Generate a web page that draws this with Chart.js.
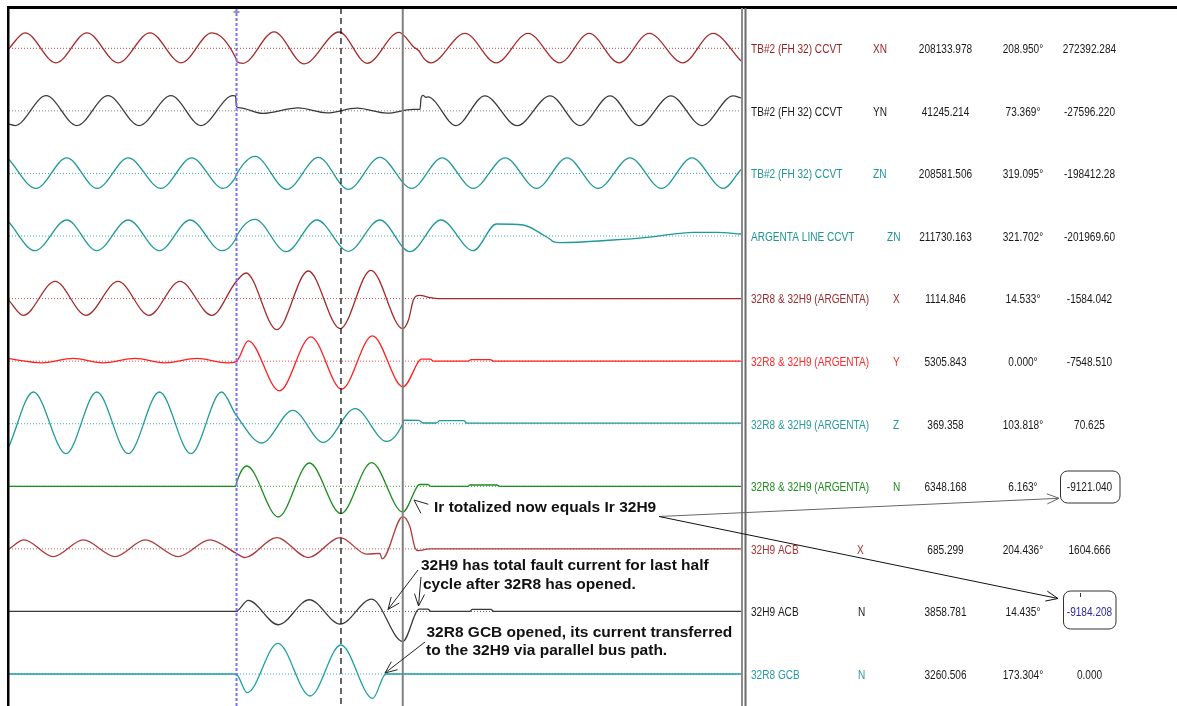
<!DOCTYPE html>
<html>
<head>
<meta charset="utf-8">
<title>Argenta 32R8 / 32H9 fault record</title>
<script src="https://cdn.jsdelivr.net/npm/chart.js@4.4.0/dist/chart.umd.min.js"></script>
<style>
  html, body { margin: 0; padding: 0; background: #fff; }
  canvas { display: block; }
</style>
</head>
<body>
<canvas id="faultChart" width="1177" height="706"></canvas>
<script>
// channel table (right hand side)
const channelNames = [
    'TB#2 (FH 32) CCVT', 'TB#2 (FH 32) CCVT', 'TB#2 (FH 32) CCVT', 'ARGENTA LINE CCVT',
    '32R8 & 32H9 (ARGENTA)', '32R8 & 32H9 (ARGENTA)', '32R8 & 32H9 (ARGENTA)', '32R8 & 32H9 (ARGENTA)',
    '32H9 ACB', '32H9 ACB', '32R8 GCB'
];
const phaseCodes = ['XN', 'YN', 'ZN', 'ZN', 'X', 'Y', 'Z', 'N', 'X', 'N', 'N'];
const magnitudes = [208133.978, 41245.214, 208581.506, 211730.163, 1114.846, 5305.843, 369.358, 6348.168, 685.299, 3858.781, 3260.506];
const angles = [208.950, 73.369, 319.095, 321.702, 14.533, 0.000, 103.818, 6.163, 204.436, 14.435, 173.304];
const instValues = ['272392.284', '-27596.220', '-198412.28', '-201969.60', '-1584.042', '-7548.510', '70.625', '-9121.040', '1604.666', '-9184.208', '0.000'];

// cursors: fault inception, reference, 32R8 open (ms)
const cursorTimes = [60.67, 88.53, 105.0];

// waveforms as [time ms, deflection], taken at every peak, trough and corner
const xnWave = [
    [0, 0], [4.3, 15.5], [12.5, -14.5], [20.8, 15.5], [29.1, -14.5], [37.6, 15.5], [45.9, -14.5], [54.1, 15.5],
    [60.5, -10], [60.8, -13.5], [62.4, -15], [70.7, 16.5], [78.7, -15.5], [88.0, 16.3], [95.5, -15], [104.0, 16],
    [108.0, 1], [109.3, -2.5], [110.7, -10.5], [112.5, -14.5], [121.6, 15], [129.9, -14.5], [138.4, 15], [146.9, -14.5],
    [154.7, 15], [162.7, -14.5], [170.7, 15], [179.7, -14.5], [187.7, 15], [195.2, -12.7]
];
const ynWave = [
    [0, -13.3], [1.6, -14.7], [9.9, 15.2], [18.1, -14.7], [26.4, 15.2], [34.7, -14.7], [43.2, 15.2], [51.2, -14.7], [59.7, 15.2],
    [60.4, 15], [60.7, 4], [61.6, 3], [67.7, -2.6], [77.1, 3], [84.8, -2], [92.8, 2.7], [100.8, -2.3], [107.7, 1.5],
    [109.6, 1.5], [109.9, 13], [110.4, 15.5], [111.2, 13.5], [111.7, 14], [119.2, -14.7], [126.9, 15], [135.5, -14.7],
    [144.3, 15], [152.3, -14.7], [160.3, 15], [168.0, -14.7], [176.5, 15], [184.8, -14.7], [193.1, 15], [195.2, 13]
];
const znWave = [
    [0, 14], [7.2, -15], [15.4, 15.5], [23.5, -15], [31.8, 15.5], [40.5, -15], [48.7, 15.5], [57.1, -15],
    [60.3, -4.4], [60.8, 0], [65.6, 17], [74.1, -16], [82.5, 16], [90.5, -16], [98.9, 16], [107.4, -15],
    [115.5, 15.5], [123.8, -15], [132.3, 15.5], [140.7, -15], [148.8, 15.5], [157.1, -15], [165.6, 15.5],
    [174.0, -15], [182.1, 15.5], [190.5, -15], [195.2, 4]
];
const argentaZnWave = [
    [0, 13.7], [6.9, -14.7], [15.4, 16], [23.4, -14.7], [31.8, 16], [40.1, -14.7], [48.3, 16], [56.7, -14.7],
    [60.3, -4], [60.7, 0], [65.6, 16.7], [73.9, -15.7], [82.1, 16], [90.5, -15.3], [98.9, 16], [106.9, -15.7],
    [115.2, 16], [123.8, -14.7], [130.0, 12], [137.1, 11], [142.5, 1], [144.3, -3.3], [145.1, -5.7], [146.9, -6.7],
    [161.1, -4], [170.1, -1.3], [178.9, 2.7], [182.5, 3.7], [188.7, 3.7], [195.2, 2]
];
const xWave = [
    [0, -2], [3.8, -16.7], [12.3, 17.3], [20.5, -16.7], [29.1, 17.3], [37.3, -16.7], [45.6, 17.3], [54.1, -16.7],
    [60.5, 16.6], [63.2, 25.6], [71.4, -31], [79.8, 27.6], [88.3, -30], [96.5, 28.3], [105.0, -30], [106.5, -21.7],
    [107.8, -1.7], [108.5, 2.3], [109.6, 3.3], [112.3, 1], [114.5, 0], [195.2, 0]
];
const yWave = [
    [0, 2.5], [8.7, -1.7], [17.1, 2.7], [25.1, -1.7], [33.6, 2.7], [41.6, -1.7], [50.1, 2.7], [58.1, -1.7],
    [60.5, -0.7], [63.8, 20.3], [72.1, -29.7], [80.5, 24.3], [88.7, -28], [96.9, 25.3], [105.1, -25.7], [109.3, 0],
    [109.9, 2], [112.3, 2], [113.3, 0], [122.4, 0], [123.2, 1.5], [128.3, 1.5], [129.3, 0], [195.2, 0]
];
const zWave = [
    [0, -22.7], [6.5, 31.7], [15.2, -30], [23.4, 31.7], [31.8, -30], [40.1, 31.7], [48.5, -30], [56.7, 31.7],
    [60.5, 9], [67.4, -19.3], [75.7, 13.3], [83.8, -18.7], [92.3, 15], [100.7, -17.7], [105.0, 0], [105.3, 3.5],
    [109.3, 3.3], [110.4, 0.7], [113.9, 0.7], [114.9, 3], [121.3, 3], [122.1, 0.5], [195.2, 0.5]
];
const nWave = [
    [0, 0], [60.5, 0], [60.8, 5], [63.4, 20.3], [71.8, -30.7], [80.1, 23.3], [88.5, -27.3], [96.7, 23.7], [105.0, -25.7],
    [109.1, 1], [109.6, 1.8], [111.7, 1.8], [112.5, 0], [122.4, 0], [122.9, 1.3], [130.1, 1.3], [130.9, 0], [195.2, 0]
];
const h9xWave = [
    [0, 0], [4.0, 9], [11.8, -7.7], [19.8, 9], [28.3, -7.7], [36.3, 9], [45.1, -7.7], [53.6, 9],
    [60.5, -4.3], [62.9, -8.7], [71.4, 11.3], [79.8, -8.7], [88.3, 11.3], [95.4, -5.3], [98.9, -4.5], [99.5, -10],
    [105.0, 32.3], [106.9, 22.3], [108.3, 0.7], [109.2, -1.7], [110.5, -1], [111.8, 0], [195.2, 0]
];
const h9nWave = [
    [0, 0], [60.5, 0], [63.8, 11], [71.8, -13.3], [80.1, 11.7], [88.3, -12.7], [96.7, 12.3], [105.0, -30],
    [108.7, 0], [109.3, 2.4], [111.7, 2.4], [112.5, 0], [122.9, 0], [123.5, 2], [128.5, 2], [129.3, 0], [195.2, 0]
];
const r8nWave = [
    [0, 0], [60.5, 0], [63.5, -18.7], [71.7, 30.7], [80.3, -22], [88.5, 29], [97.0, -24.3], [100.5, 0], [195.2, 0]
];

const waves = [xnWave, ynWave, znWave, argentaZnWave, xWave, yWave, zWave, nWave, h9xWave, h9nWave, r8nWave];

// trace styling
const waveColors = ['#a52a2a', '#3a3a3a', '#1f9999', '#1f9999', '#a52a2a', '#ff1f1f', '#1f9999', '#1e8c1e', '#b03a3a', '#3a3a3a', '#1aa0a8'];
const zeroColors = ['#c43c3c', '#808080', '#3aaaaa', '#3aaaaa', '#c05050', '#ff4a4a', '#3aaaaa', '#3a9a3a', '#c86060', '#606060', '#3aaab0'];
const textColors = ['#9b1c1c', '#1a1a1a', '#1e9494', '#1e9494', '#9b2a2a', '#ff2a2a', '#2a9a9a', '#1e8c1e', '#a83232', '#1a1a1a', '#2a9aa0'];
const codeX = [873, 873, 873, 887, 893, 893, 893, 893, 857, 858, 858];

// layout: one row per channel, 1 y unit = 1 px
const T_END = 195.2;
const ROW_TOP = 48.3;
const ROW_GAP = 62.57;
const AREA_BOTTOM = 706;
const FONT = "'Liberation Sans', Arial, sans-serif";

function zeroLevel(i) {
    return AREA_BOTTOM - (ROW_TOP + ROW_GAP * i);
}

const datasets = [];
waves.forEach((wave, i) => {
    datasets.push({
        data: [{ x: 0, y: zeroLevel(i) }, { x: T_END, y: zeroLevel(i) }],
        borderColor: zeroColors[i],
        borderWidth: 1,
        borderDash: [1, 2],
        order: 2
    });
    datasets.push({
        data: wave.map(p => ({ x: p[0], y: zeroLevel(i) + p[1] })),
        borderColor: waveColors[i],
        borderWidth: 1.3,
        cubicInterpolationMode: 'monotone',
        order: 1
    });
});

function arrowHead(ctx, tipX, tipY, fromX, fromY, len, spread) {
    const a = Math.atan2(fromY - tipY, fromX - tipX);
    ctx.beginPath();
    ctx.moveTo(tipX + len * Math.cos(a - spread), tipY + len * Math.sin(a - spread));
    ctx.lineTo(tipX, tipY);
    ctx.lineTo(tipX + len * Math.cos(a + spread), tipY + len * Math.sin(a + spread));
    ctx.stroke();
}

function arrow(ctx, x1, y1, x2, y2) {
    ctx.beginPath();
    ctx.moveTo(x1, y1);
    ctx.lineTo(x2, y2);
    ctx.stroke();
    arrowHead(ctx, x2, y2, x1, y1, 13, 0.4);
}

function roundBox(ctx, x, y, w, h, r) {
    ctx.beginPath();
    ctx.moveTo(x + r, y);
    ctx.arcTo(x + w, y, x + w, y + h, r);
    ctx.arcTo(x + w, y + h, x, y + h, r);
    ctx.arcTo(x, y + h, x, y, r);
    ctx.arcTo(x, y, x + w, y, r);
    ctx.closePath();
    ctx.stroke();
}

// narrow table lettering
function tableText(ctx, str, x, y, align) {
    ctx.save();
    ctx.translate(x, y);
    ctx.scale(0.84, 1);
    ctx.textAlign = align;
    ctx.fillText(str, 0, 0);
    ctx.restore();
}

const overlay = {
    id: 'overlay',
    afterDatasetsDraw(chart) {
        const { ctx, chartArea: area, scales } = chart;
        const top = area.top;
        const bottom = area.bottom;
        ctx.save();

        // fault inception cursor
        const xf = scales.x.getPixelForValue(cursorTimes[0]);
        ctx.strokeStyle = '#7373ff';
        ctx.lineWidth = 2;
        ctx.setLineDash([3, 2]);
        ctx.beginPath();
        ctx.moveTo(xf, top);
        ctx.lineTo(xf, bottom);
        ctx.stroke();
        ctx.setLineDash([]);
        ctx.strokeStyle = '#333';
        ctx.lineWidth = 1;
        ctx.beginPath();
        ctx.moveTo(xf - 3, 12);
        ctx.lineTo(xf + 3, 12);
        ctx.stroke();

        // reference cursor
        const xr = scales.x.getPixelForValue(cursorTimes[1]);
        ctx.strokeStyle = '#000';
        ctx.lineWidth = 1.2;
        ctx.setLineDash([6, 4]);
        ctx.beginPath();
        ctx.moveTo(xr, top);
        ctx.lineTo(xr, bottom);
        ctx.stroke();
        ctx.setLineDash([]);

        // 32R8 open cursor
        const xo = scales.x.getPixelForValue(cursorTimes[2]);
        ctx.strokeStyle = '#808080';
        ctx.lineWidth = 2;
        ctx.beginPath();
        ctx.moveTo(xo, top);
        ctx.lineTo(xo, bottom);
        ctx.stroke();

        ctx.restore();
    },
    afterDraw(chart) {
        const { ctx, chartArea: area } = chart;
        ctx.save();

        // window frame
        ctx.fillStyle = '#000';
        ctx.fillRect(7, 6, chart.width - 7, 3);
        ctx.fillRect(7, 6, 2.5, chart.height - 6);
        ctx.fillStyle = '#8c8c8c';
        ctx.fillRect(area.right, 8, 2, area.bottom - 8);
        ctx.fillStyle = '#6a6a6a';
        ctx.fillRect(area.right + 3.5, 8, 2, area.bottom - 8);

        // channel table
        ctx.font = '12px ' + FONT;
        ctx.textBaseline = 'middle';
        channelNames.forEach((name, i) => {
            const y = ROW_TOP + ROW_GAP * i + 1.5;
            ctx.fillStyle = textColors[i];
            tableText(ctx, name, 751, y, 'left');
            tableText(ctx, phaseCodes[i], codeX[i], y, 'left');
            ctx.fillStyle = '#1a1a1a';
            tableText(ctx, magnitudes[i].toFixed(3), 945.5, y, 'center');
            tableText(ctx, angles[i].toFixed(3) + '°', 1023, y, 'center');
            ctx.fillStyle = i === 9 ? '#2a2aa0' : '#1a1a1a';
            tableText(ctx, instValues[i], 1089.5, y, 'center');
        });

        // boxed totals
        ctx.strokeStyle = '#333';
        ctx.lineWidth = 1;
        roundBox(ctx, 1060.5, 471, 59.5, 32, 7);
        roundBox(ctx, 1063.5, 591, 52.5, 38, 7);
        ctx.beginPath();
        ctx.moveTo(1080.5, 593);
        ctx.lineTo(1080.5, 597);
        ctx.stroke();

        // notes
        ctx.font = 'bold 15.5px ' + FONT;
        ctx.fillStyle = '#111';
        ctx.textAlign = 'left';
        ctx.fillText('Ir totalized now equals Ir 32H9', 434, 508);
        ctx.fillText('32H9 has total fault current for last half', 421, 566);
        ctx.fillText('cycle after 32R8 has opened.', 423, 584.5);
        ctx.fillText('32R8 GCB opened, its current transferred', 426.5, 632.5);
        ctx.fillText('to the 32H9 via parallel bus path.', 426, 651);

        ctx.lineWidth = 1;
        ctx.strokeStyle = '#222';
        arrowHead(ctx, 414, 500, 425.5, 509.5, 15, 0.4);

        ctx.strokeStyle = '#666';
        arrow(ctx, 659, 516.5, 1059, 498.3);
        ctx.strokeStyle = '#111';
        arrow(ctx, 659, 516.5, 1058, 598.5);

        ctx.strokeStyle = '#222';
        arrow(ctx, 418, 570, 388, 609.5);
        arrow(ctx, 421, 577, 418.5, 606);
        arrow(ctx, 425, 642, 385, 673);

        ctx.restore();
    }
};

const config = {
    type: 'line',
    data: { datasets: datasets },
    options: {
        responsive: false,
        animation: false,
        events: [],
        layout: { padding: { left: 9, top: 8, right: 436, bottom: 0 } },
        elements: { point: { radius: 0 } },
        scales: {
            x: { type: 'linear', min: 0, max: T_END, display: false },
            y: { type: 'linear', min: 0, max: AREA_BOTTOM - 8, display: false }
        },
        plugins: {
            legend: { display: false },
            tooltip: { enabled: false }
        }
    },
    plugins: [overlay]
};

const faultChart = new Chart(
    document.getElementById('faultChart'),
    config
);
</script>
</body>
</html>
